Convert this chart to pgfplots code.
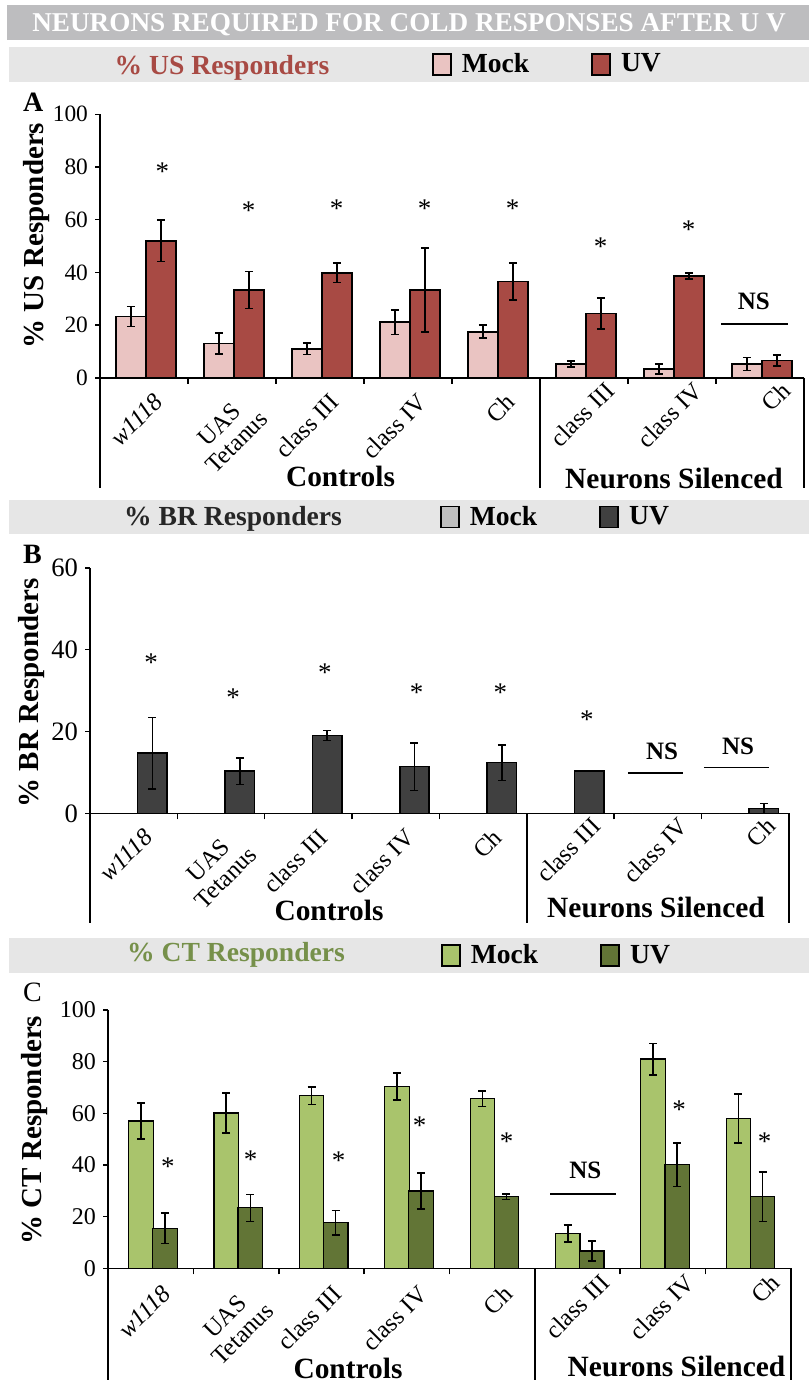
\documentclass[border=0pt]{standalone}
\usepackage{fontspec}
\setmainfont{Liberation Serif}
\usepackage{pgfplots}
\pgfplotsset{compat=1.18}
\usepackage{pgfplotstable}
\newcommand\fs[1]{\fontsize{#1}{#1}\selectfont}
\definecolor{usMock}{HTML}{EAC4C2}
\definecolor{usUV}{HTML}{A84A44}
\definecolor{brMock}{HTML}{BFBFBF}
\definecolor{brUV}{HTML}{404040}
\definecolor{ctMock}{HTML}{A9C46C}
\definecolor{ctUV}{HTML}{627536}
\definecolor{bandone}{HTML}{BDBDBF}
\definecolor{bandtwo}{HTML}{E6E6E6}
\definecolor{usText}{HTML}{A84A44}
\definecolor{brText}{HTML}{262626}
\definecolor{ctText}{HTML}{76904A}

% xm, xu: bar centres of the Mock and UV bars inside each category slot
\pgfplotstableread{
xm xu mock mockerr uv uverr
0.352 0.693 23.2 3.8 52.0 7.9
1.352 1.693 13.0 4.0 33.3 7.0
2.352 2.693 11.0 2.2 39.9 3.7
3.352 3.693 21.1 4.7 33.3 16.0
4.352 4.693 17.5 2.4 36.5 7.0
5.352 5.693 5.2 1.2 24.4 5.9
6.352 6.693 3.3 1.9 38.6 1.1
7.352 7.693 5.2 2.4 6.5 2.1
}\tableA
\pgfplotstableread{
xm xu mock mockerr uv uverr
0.378 0.715 0 0 14.7 8.7
1.378 1.715 0 0 10.3 3.25
2.378 2.715 0 0 19.0 1.2
3.378 3.715 0 0 11.4 5.8
4.378 4.715 0 0 12.4 4.35
5.378 5.715 0 0 10.3 0.1
6.378 6.715 0 0 0 0
7.378 7.715 0 0 1.2 1.2
}\tableB
\pgfplotstableread{
xm xu mock mockerr uv uverr
0.385 0.667 57.0 7.0 15.5 5.9
1.385 1.667 60.1 7.7 23.4 5.2
2.385 2.667 66.8 3.4 17.7 4.7
3.385 3.667 70.3 5.2 29.9 6.9
4.385 4.667 65.7 3.0 27.7 1.1
5.385 5.667 13.4 3.3 6.7 3.9
6.385 6.667 81.0 6.1 40.1 8.5
7.385 7.667 57.9 9.5 27.7 9.5
}\tableC

\tikzset{
  starnode/.style={font=\fs{13.5}, yshift=-1.5pt},
  nsnode/.style={font=\bfseries\fs{12.5}},
}
\pgfplotsset{
  panel/.style={
    scale only axis, anchor=south west, xmin=0, xmax=8, ymin=0, clip=false,
    axis x line*=bottom, axis y line*=left,
    axis line style={line width=0.8pt,-},
    xtick={0.5,1.5,...,4.5}, minor xtick={1,2,...,7},
    tick align=outside, major tick length=2.5pt, minor tick length=3pt,
    major x tick style={draw=none},
    tick style={line width=0.8pt, black},
    xticklabel style={rotate=45, anchor=north east, align=center, font=\fs{12.3}, inner sep=1pt, xshift=1pt, yshift=-5pt},
    xticklabels={\textit{w1118},{UAS\\Tetanus},class III,class IV,Ch},
    extra x ticks={5.5,6.5,7.5},
    extra x tick labels={class III,class IV,Ch},
    extra x tick style={tick style={draw=none}, xticklabel style={xshift=8pt}},
    yticklabel style={font=\fs{11.7}},
    /pgf/number format/assume math mode=true,
    ylabel style={font=\bfseries\fs{14.5}, anchor=center},
    legend columns=2,
    legend style={draw=none, fill=none, anchor=west, inner sep=0pt, outer sep=0pt,
      font=\bfseries\fs{13.8}, nodes={inner sep=0pt},
      /tikz/every odd column/.style={column sep=5pt},
      /tikz/every even column/.style={column sep=31pt}},
    legend image code/.code={\draw[##1,draw=black,line width=0.9pt] (0pt,-5.25pt) rectangle (9pt,5.25pt);},
  },
  errs/.style={error bars/.cd, y dir=both, y explicit,
    error bar style={line width=0.8pt,black},
    error mark options={rotate=90, line width=0.8pt, mark size=2pt, black}},
}

\begin{document}
\begin{tikzpicture}
\useasboundingbox (0,0) rectangle (404.5pt,-692.5pt);
\begin{scope}[x=0.5pt,y=0.5pt]
% title band
\fill[bandone] (7,-5) rectangle (809,-40);
\node[anchor=base, text=white, font=\bfseries\fs{13.6}] at (409,-31.7) {NEURONS REQUIRED FOR COLD RESPONSES AFTER U V};
% band A
\fill[bandtwo] (9,-47) rectangle (809,-82);
\node[anchor=base, text=usText, font=\bfseries\fs{13.8}] at (222,-74.5) {\% US Responders};
\node[anchor=base west, font=\bfseries\fs{14}] at (16,-111.7) {A};
% band B
\fill[bandtwo] (9,-500) rectangle (809,-534);
\node[anchor=base, text=brText, font=\bfseries\fs{13.8}] at (233,-525.7) {\% BR Responders};
\node[anchor=base west, font=\bfseries\fs{14}] at (16,-563) {B};
% band C
\fill[bandtwo] (9,-938) rectangle (809,-973);
\node[anchor=base, text=ctText, font=\bfseries\fs{13.8}] at (236,-961.7) {\% CT Responders};
\node[anchor=base west, font=\fs{14}] at (16,-1001.7) {C};
% group boxes
\draw[line width=0.8pt] (100,-377.7) -- (100,-488) (540,-377.7) -- (540,-488) (804,-377.7) -- (804,-488);
\node[anchor=base, font=\bfseries\fs{14.7}] at (340.5,-486.7) {Controls};
\node[anchor=base, font=\bfseries\fs{14.7}] at (674,-488) {Neurons Silenced};
\draw[line width=0.8pt] (90,-813.3) -- (90,-923) (526.7,-813.3) -- (526.7,-923) (788.7,-813.3) -- (788.7,-923);
\node[anchor=base, font=\bfseries\fs{14.7}] at (329,-920) {Controls};
\node[anchor=base, font=\bfseries\fs{14.7}] at (656,-917.7) {Neurons Silenced};
\draw[line width=0.8pt] (108,-1268.3) -- (108,-1380) (534.9,-1268.3) -- (534.9,-1380) (791,-1268.3) -- (791,-1380);
\node[anchor=base, font=\bfseries\fs{14.7}] at (348,-1378) {Controls};
\node[anchor=base, font=\bfseries\fs{14.7}] at (676.5,-1376.7) {Neurons Silenced};
\end{scope}

\begin{axis}[panel, at={(50pt,-188.85pt)}, width=352pt, height=131.7pt, ymax=100, ytick={0,20,...,100},
  ylabel={\% US Responders}, ylabel style={at={(axis description cs:-0.0895,0.54)}},
  legend style={at={(axis description cs:0.4716,1.190)}}]
\addplot[ybar, bar width=15pt, bar shift=0pt, fill=usMock, draw=black, line width=0.9pt, errs] table[x=xm, y=mock, y error=mockerr]{\tableA};
\addplot[ybar, bar width=15pt, bar shift=0pt, fill=usUV, draw=black, line width=0.9pt, errs] table[x=xu, y=uv, y error=uverr]{\tableA};
\legend{Mock,UV}
\node[starnode] at (axis cs:0.71,79.5) {*};
\node[starnode] at (axis cs:1.69,64.4) {*};
\node[starnode] at (axis cs:2.69,65.2) {*};
\node[starnode] at (axis cs:3.69,65.2) {*};
\node[starnode] at (axis cs:4.69,65.2) {*};
\node[starnode] at (axis cs:5.69,51) {*};
\node[starnode] at (axis cs:6.69,57.3) {*};
\node[nsnode] at (axis cs:7.43,28.9) {NS};
\draw[line width=0.9pt] (axis cs:7.06,20.4) -- (axis cs:7.82,20.4);
\end{axis}

\begin{axis}[panel, at={(45pt,-406.65pt)}, width=349.35pt, height=122.8pt, ymax=60, ytick={0,20,40,60},
  yticklabel style={font=\fs{13.3}},
  ylabel={\% BR Responders}, ylabel style={at={(axis description cs:-0.083,0.49)}},
  legend style={at={(axis description cs:0.501,1.2065)}}]
\addplot[ybar, bar width=14.75pt, bar shift=0pt, fill=brMock, draw=black, line width=0.8pt, errs] table[x=xm, y=mock, y error=mockerr]{\tableB};
\addplot[ybar, bar width=14.75pt, bar shift=0pt, fill=brUV, draw=black, line width=0.8pt, errs] table[x=xu, y=uv, y error=uverr]{\tableB};
\legend{Mock,UV}
\node[starnode] at (axis cs:0.70,37.5) {*};
\node[starnode] at (axis cs:1.64,28.9) {*};
\node[starnode] at (axis cs:2.69,35) {*};
\node[starnode] at (axis cs:3.74,30.1) {*};
\node[starnode] at (axis cs:4.70,30.1) {*};
\node[starnode] at (axis cs:5.69,23.6) {*};
\node[nsnode] at (axis cs:6.55,15.1) {NS};
\draw[line width=0.9pt] (axis cs:6.16,9.9) -- (axis cs:6.79,9.9);
\node[nsnode] at (axis cs:7.42,16.3) {NS};
\draw[line width=0.9pt] (axis cs:7.03,11.2) -- (axis cs:7.78,11.2);
\end{axis}

\begin{axis}[panel, at={(54pt,-634.15pt)}, width=341.5pt, height=129.15pt, ymax=100, ytick={0,20,...,100},
  yticklabel style={font=\fs{12}},
  xticklabel style={yshift=-1pt},
  ylabel={\% CT Responders}, ylabel style={at={(axis description cs:-0.108,0.535)}},
  legend style={at={(axis description cs:0.4876,1.211)}}]
\addplot[ybar, bar width=12.25pt, bar shift=0pt, fill=ctMock, draw=black, line width=0.6pt, errs] table[x=xm, y=mock, y error=mockerr]{\tableC};
\addplot[ybar, bar width=12.25pt, bar shift=0pt, fill=ctUV, draw=black, line width=0.6pt, errs] table[x=xu, y=uv, y error=uverr]{\tableC};
\legend{Mock,UV}
\node[starnode] at (axis cs:0.70,40.6) {*};
\node[starnode] at (axis cs:1.67,43.2) {*};
\node[starnode] at (axis cs:2.70,42.8) {*};
\node[starnode] at (axis cs:3.65,56.4) {*};
\node[starnode] at (axis cs:4.67,50.3) {*};
\node[starnode] at (axis cs:6.69,62.6) {*};
\node[starnode] at (axis cs:7.69,50.3) {*};
\node[nsnode] at (axis cs:5.59,37.8) {NS};
\draw[line width=0.9pt] (axis cs:5.18,28.8) -- (axis cs:5.95,28.8);
\end{axis}
\end{tikzpicture}
\end{document}
